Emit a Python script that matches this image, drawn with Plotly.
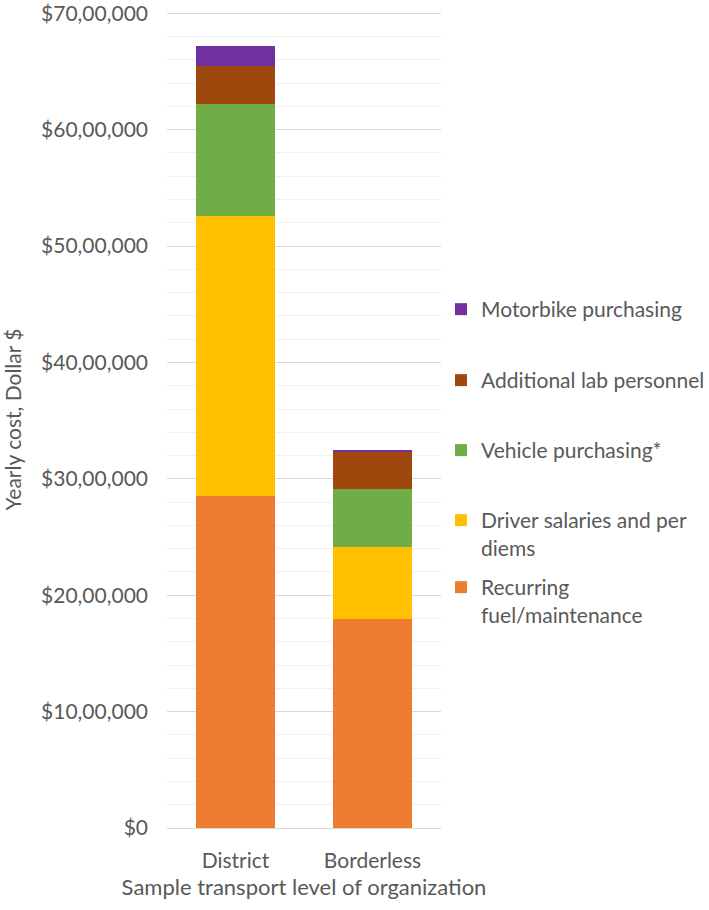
import plotly.graph_objects as go

categories = ["District", "Borderless"]
series_names = [
    "Recurring<br>fuel/maintenance",
    "Driver salaries and per<br>diems",
    "Vehicle purchasing*",
    "Additional lab personnel",
    "Motorbike purchasing",
]
recurring_fuel = [2850000, 1795000]
driver_salaries = [2410000, 618000]
vehicle_purchasing = [965000, 496000]
lab_personnel = [323000, 323000]
motorbike_purchasing = [175000, 17000]
series_values = [recurring_fuel, driver_salaries, vehicle_purchasing, lab_personnel, motorbike_purchasing]
colors = ["#ED7D31", "#FFC000", "#70AD47", "#9E480E", "#7030A0"]

tick_vals = [0, 1000000, 2000000, 3000000, 4000000, 5000000, 6000000, 7000000]
tick_text = ["$0", "$10,00,000", "$20,00,000", "$30,00,000", "$40,00,000",
             "$50,00,000", "$60,00,000", "$70,00,000"]

FONT = "Lato"
TXT = "#595959"
FS = 21

W, H = 709, 910
ML, MR, MT, MB = 167, 268, 11, 82
plot_h = H - MT - MB

# legend entry tops (pixel rows) for each series, bottom series first
legend_tops_px = [567, 500, 430, 360, 289]
legend_ids = ["legend5", "legend4", "legend3", "legend2", "legend"]

fig = go.Figure()
for name, vals, col, lid in zip(series_names, series_values, colors, legend_ids):
    fig.add_trace(go.Bar(
        x=categories, y=vals, name=name, marker=dict(color=col, line=dict(width=0)),
        legend=lid, showlegend=True,
    ))

legend_layout = {}
for lid, top in zip(legend_ids, legend_tops_px):
    legend_layout[lid] = dict(
        x=1.0, xanchor="left", y=(H - MB - top) / plot_h, yanchor="top",
        font=dict(family=FONT, size=FS, color=TXT), bgcolor="rgba(0,0,0,0)",
        valign="top", visible=True,
    )

fig.update_layout(
    width=W, height=H, autosize=False, showlegend=True,
    barmode="stack", bargap=0.42,
    plot_bgcolor="white", paper_bgcolor="white",
    font=dict(family=FONT, size=FS, color=TXT),
    margin=dict(l=ML, r=MR, t=MT, b=MB, autoexpand=False),
    xaxis=dict(
        showgrid=False, showline=False, ticks="", automargin=False,
        tickfont=dict(size=FS, color=TXT), ticklabelstandoff=18,
        title=dict(text="Sample transport level of organization", font=dict(size=22, color=TXT), standoff=8),
    ),
    yaxis=dict(
        range=[0, 7020000], tickvals=tick_vals, ticktext=tick_text, automargin=False,
        ticklabeloverflow="allow",
        showgrid=True, gridcolor="#d9d9d9", gridwidth=1,
        zeroline=True, zerolinecolor="#d9d9d9", zerolinewidth=1,
        minor=dict(dtick=200000, showgrid=True, gridcolor="#f0f0f0", gridwidth=1),
        ticks="", tickfont=dict(size=FS, color=TXT), ticklabelstandoff=18,
        title=dict(text="Yearly cost, Dollar $", font=dict(size=FS, color=TXT), standoff=14),
    ),
    **legend_layout,
)

fig.write_html("out.html", config={"displayModeBar": False},
               post_script="document.body.style.margin='0';")
